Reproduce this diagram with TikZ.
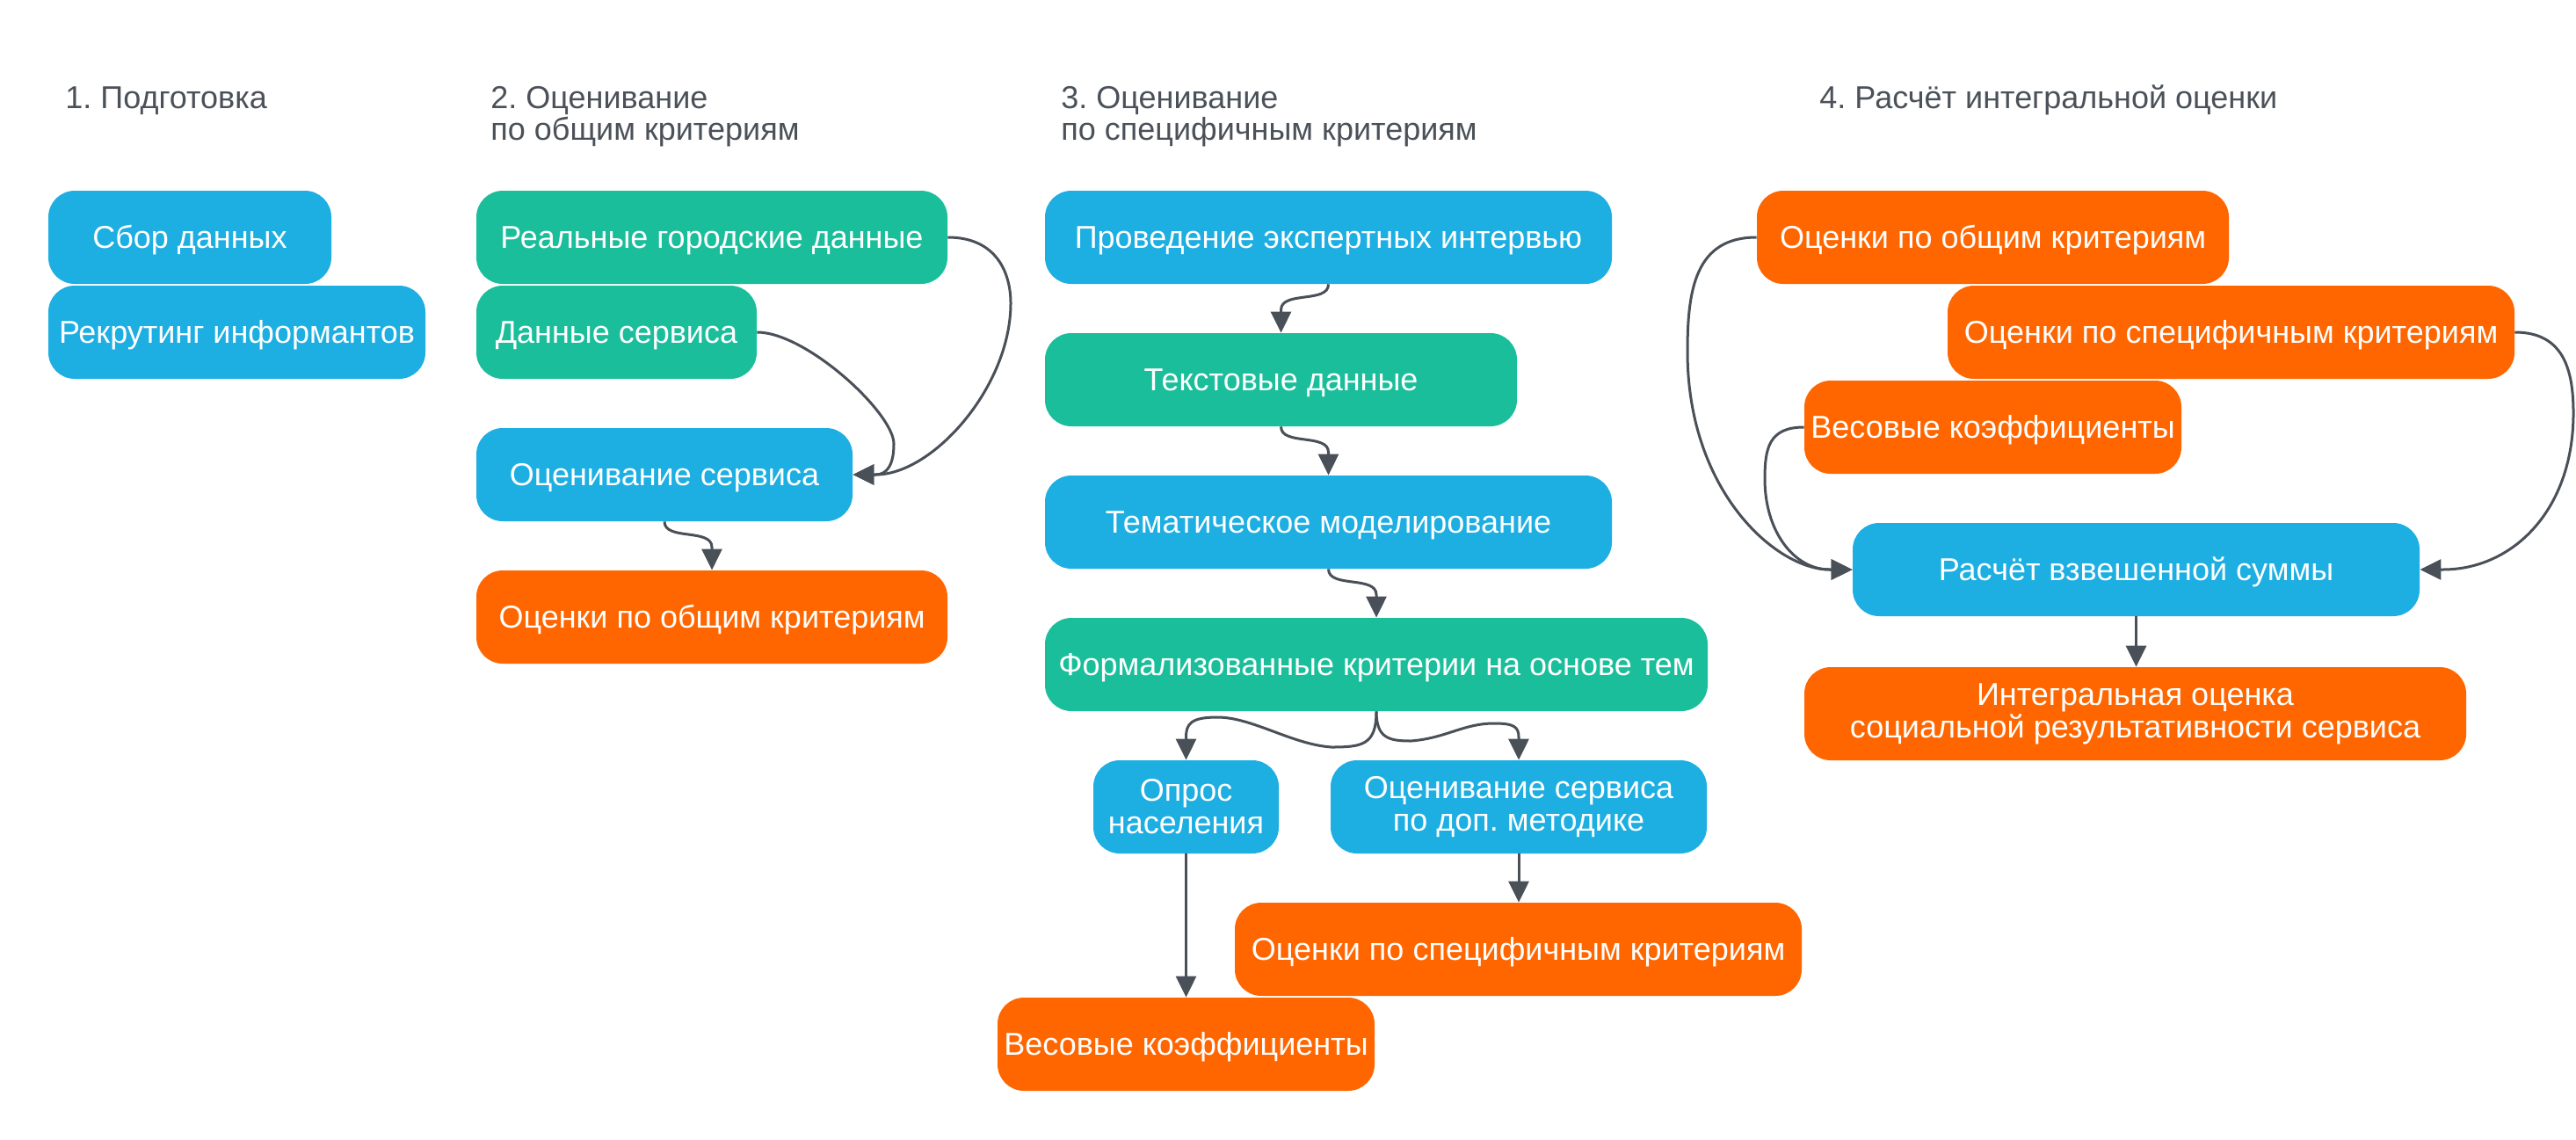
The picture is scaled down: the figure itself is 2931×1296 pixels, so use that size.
\documentclass[tikz,border=0pt]{standalone}
\usepackage{fontspec}
\setmainfont{Liberation Sans}
\usetikzlibrary{arrows.meta,calc}
\definecolor{cblue}{HTML}{1DAEE2}
\definecolor{cgreen}{HTML}{1BBE9B}
\definecolor{corange}{HTML}{FF6600}
\definecolor{cline}{HTML}{4A5058}
\definecolor{ctitle}{HTML}{4B5159}
\newcommand{\boxfont}{\fontsize{18}{18.5}\selectfont}
\frenchspacing
\begin{document}
\frenchspacing
\begin{tikzpicture}[x=0.5pt,y=-0.5pt,
  bxbase/.style={rounded corners=15pt, minimum height=53pt, inner sep=0pt, text=white, font=\boxfont, align=center},
  bx/.style={bxbase, text height=12.9pt, text depth=0pt},
  wd/.style={minimum width=#1*0.5pt},
  bl/.style={bx, fill=cblue},
  gr/.style={bx, fill=cgreen},
  og/.style={bx, fill=corange},
  blm/.style={bxbase, fill=cblue},
  ogm/.style={bxbase, fill=corange},
  ttl/.style={anchor=base west, inner sep=0pt, text=ctitle, font=\fontsize{18}{18}\selectfont, align=left},
  arr/.style={draw=cline, line width=1.5pt, -{Triangle[length=12pt,width=11.5pt]}}
]
\fill[white] (0,0) rectangle (2931,1296);
\useasboundingbox (0,0) rectangle (2931,1296);

% titles
\node[ttl] (t1) at (74,123) {1. Подготовка};
\node[ttl] (t2) at (558,159) {2. Оценивание\\по общим критериям};
\node[ttl] (t3) at (1207,159) {3. Оценивание\\по специфичным критериям};
\node[ttl] (t4) at (2070,123) {4. Расчёт интегральной оценки};

% column 1
\node[bl, wd=322] (sbor) at (216,270) {Сбор данных};
\node[bl, wd=429] (rekr) at (269.5,378) {Рекрутинг информантов};

% column 2
\node[gr, wd=536] (real) at (810,270) {Реальные городские данные};
\node[gr, wd=319] (dann) at (701.5,378) {Данные сервиса};
\node[bl, wd=428] (ocs) at (756,540) {Оценивание сервиса};
\node[og, wd=536] (ogc) at (810,702) {Оценки по общим критериям};

% column 3
\node[bl, wd=645] (prov) at (1511.5,270) {Проведение экспертных интервью};
\node[gr, wd=537] (txt) at (1457.5,432) {Текстовые данные};
\node[bl, wd=645] (tem) at (1511.5,594) {Тематическое моделирование};
\node[gr, wd=754] (form) at (1566,756) {Формализованные критерии на основе тем};
\node[blm, wd=211] (opros) at (1349.5,918) {Опрос\\населения};
\node[blm, wd=428] (dop) at (1728,918) {Оценивание сервиса\\по доп. методике};
\node[og, wd=645] (spec) at (1727.5,1080) {Оценки по специфичным критериям};
\node[og, wd=429] (ves) at (1349.5,1188) {Весовые коэффициенты};

% column 4
\node[og, wd=537] (og4) at (2267.5,270) {Оценки по общим критериям};
\node[og, wd=645] (sp4) at (2538.5,378) {Оценки по специфичным критериям};
\node[og, wd=429] (ves4) at (2267.5,486) {Весовые коэффициенты};
\node[bl, wd=645] (rasch) at (2430.5,648) {Расчёт взвешенной суммы};
\node[ogm, wd=753] (integ) at (2429.5,812) {Интегральная оценка\\социальной результативности сервиса};

% column 2 connectors
\draw[arr] (real.east) .. controls +(55,0) and +(0,-35) .. (1150,345)
  .. controls +(0,95) and +(65,0) .. ($(ocs.east)+(26,0)$) -- (ocs.east);
\draw[arr] (dann.east) .. controls +(56,0) and +(0,-35) .. (1017,505)
  .. controls +(0,25) and +(12,0) .. ($(ocs.east)+(26,0)$) -- (ocs.east);
\draw[arr] (ocs.south) .. controls +(0,22) and +(0,-22) .. ($(ogc.north)+(0,-26)$) -- (ogc.north);

% column 3 connectors
\draw[arr] (prov.south) .. controls +(0,22) and +(0,-22) .. ($(txt.north)+(0,-26)$) -- (txt.north);
\draw[arr] (txt.south) .. controls +(0,22) and +(0,-22) .. ($(tem.north)+(0,-26)$) -- (tem.north);
\draw[arr] (tem.south) .. controls +(0,22) and +(0,-22) .. ($(form.north)+(0,-26)$) -- (form.north);
\draw[arr] (form.south) .. controls +(0,38) and +(35,0) .. (1515,850)
  .. controls +(-45,-3) and +(40,0) .. (1385,816)
  .. controls +(-30,0) and +(0,-15) .. ($(opros.north)+(0,-26)$) -- (opros.north);
\draw[arr] (form.south) .. controls +(0,30) and +(-25,0) .. (1605,843)
  .. controls +(40,-3) and +(-35,0) .. (1700,823)
  .. controls +(22,0) and +(0,-12) .. ($(dop.north)+(0,-26)$) -- (dop.north);
\draw[arr] (opros.south) -- (ves.north);
\draw[arr] (dop.south) -- (dop.south |- spec.north);

% column 4 connectors
\draw[arr] (og4.west) .. controls +(-70,0) and +(0,-70) .. (1920,400)
  .. controls +(0,160) and +(-60,0) .. ($(rasch.west)+(-26,0)$) -- (rasch.west);
\draw[arr] (ves4.west) .. controls +(-40,0) and +(0,-35) .. (2008,545)
  .. controls +(0,60) and +(-40,0) .. ($(rasch.west)+(-26,0)$) -- (rasch.west);
\draw[arr] (sp4.east) .. controls +(55,0) and +(0,-50) .. (2928,470)
  .. controls +(0,110) and +(80,0) .. ($(rasch.east)+(26,0)$) -- (rasch.east);
\draw[arr] (rasch.south) -- (rasch.south |- integ.north);
\end{tikzpicture}
\end{document}
